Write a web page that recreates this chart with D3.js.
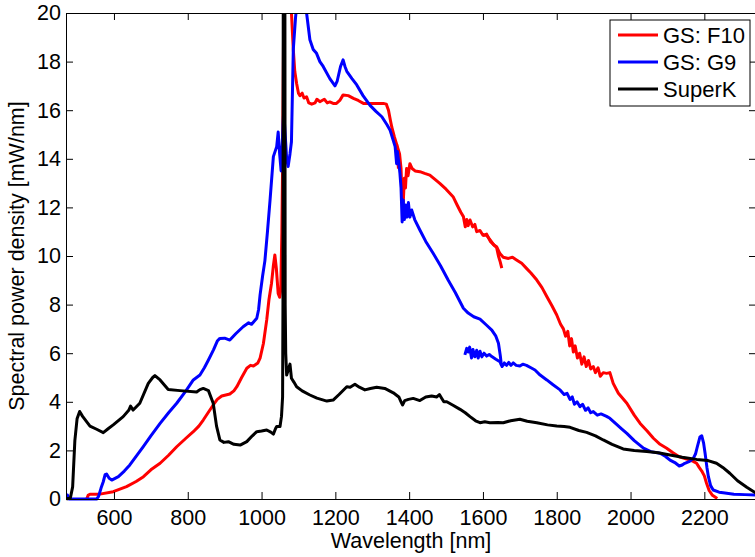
<!DOCTYPE html>
<html>
<head>
<meta charset="utf-8">
<script src="https://cdn.jsdelivr.net/npm/d3@7"></script>
<style>
  body { margin: 0; background: #fff; }
  text { font-family: "Liberation Sans", Arial, sans-serif; }
</style>
</head>
<body>
<div id="chart"></div>
<script>

// Spectra: [wavelength nm, mW/nm]

var superK = [[471,0],[482,0.05],[488,0.5],[494,2.4],[500,3.3],[507,3.6],[515,3.4],[535,3.0],[553,2.87],[571,2.73],
  [585,2.9],[598,3.05],[625,3.39],[640,3.65],[645,3.82],[652,3.66],[670,3.94],[693,4.76],[705,5.0],[711,5.08],
  [725,4.9],[747,4.51],[779,4.46],[824,4.4],[833,4.5],[842,4.55],[856,4.46],[869,3.94],[878,3.0],[887,2.43],
  [898,2.33],[910,2.36],[925,2.25],[942,2.22],[960,2.36],[975,2.6],[987,2.77],[1000,2.8],[1014,2.84],[1025,2.75],
  [1032,2.67],[1038,2.9],[1041,2.98],[1050,2.98],[1054,3.4],[1057,4.2],[1058,8],[1059,25],[1061,25],[1063,25],
  [1064,8],[1065.5,6],[1068,5.1],[1072,5.3],[1077,5.55],[1081,4.97],[1088,4.8],[1095,4.62],[1110,4.45],[1131,4.28],[1150,4.15],
  [1177,4.03],[1194,4.07],[1210,4.3],[1231,4.62],[1240,4.6],[1253,4.72],[1265,4.6],[1280,4.49],[1295,4.55],[1312,4.6],
  [1334,4.55],[1357,4.37],[1372,4.2],[1378,4.0],[1382,3.87],[1388,4.05],[1398,4.1],[1411,4.14],[1429,4.05],[1445,4.2],
  [1461,4.24],[1475,4.2],[1482,4.3],[1488,4.15],[1494,4.0],[1502,4.0],[1520,3.85],[1538,3.69],[1552,3.55],[1565,3.39],
  [1580,3.22],[1592,3.14],[1605,3.18],[1619,3.14],[1640,3.15],[1655,3.14],[1675,3.22],[1700,3.28],[1720,3.2],[1746,3.14],
  [1775,3.05],[1800,3.0],[1820,2.98],[1836,2.95],[1860,2.82],[1881,2.74],[1905,2.6],[1926,2.43],[1950,2.25],[1980,2.06],
  [2010,2.0],[2044,1.95],[2075,1.9],[2107,1.81],[2140,1.72],[2179,1.63],[2210,1.58],[2233,1.47],[2250,1.3],[2269,1.06],
  [2290,0.75],[2315,0.48],[2340,0.24]];

var g9Short = [[470,0.16],[474,0.16],[478,0],[553,0],[558,0.1],[565,0.45],[571,0.71],[576,1.0],[580,1.03],[587,0.85],
  [594,0.78],[612,0.92],[628,1.15],[643,1.4],[660,1.75],[679,2.15],[700,2.6],[725,3.11],[748,3.55],[770,3.94],
  [795,4.45],[815,4.9],[833,5.1],[845,5.4],[856,5.72],[870,6.15],[880,6.5],[887,6.61],[900,6.62],[914,6.54],
  [930,6.8],[950,7.09],[965,7.25],[973,7.19],[987,7.44],[992,7.8],[996,8.4],[1003,9.2],[1009,9.8],[1016,11.0],
  [1023,12.3],[1032,14.09],[1041,14.5],[1045,15.1],[1049,14.2],[1053,13.5],[1060,16],[1068,14.0],[1072,13.68],[1077,14.2],
  [1081,14.7],[1086,18.5],[1092,19.8],[1100,21],[1112,21],[1122,20],[1131,18.9],[1140,18.5],[1149,18.34],[1158,18.0],
  [1167,17.8],[1185,17.3],[1199,17.0],[1205,17.2],[1214,17.8],[1221,18.07],[1226,17.8],[1231,17.6],[1245,17.3],[1258,17.04],
  [1275,16.6],[1294,16.2],[1310,15.95],[1326,15.73],[1340,15.4],[1348,15.19],[1356,14.8],[1362,14.5],[1366,13.8],[1368,14.3],
  [1371,13.95],[1375,13.4],[1378,12.8],[1381,11.4],[1384,12.3],[1387,11.5],[1391,12.1],[1394,11.6],[1398,12.2],[1402,11.6],
  [1407,11.89],[1415,11.5],[1429,11.07],[1445,10.6],[1465,10.11],[1485,9.6],[1506,9.0],[1525,8.5],[1547,7.85],[1560,7.65],
  [1575,7.5],[1592,7.4],[1610,7.15],[1624,6.95],[1635,6.7],[1642,6.41],[1647,5.9],[1650,5.5]];

var g9Long = [[1551,5.93],[1556,6.2],[1560,6.05],[1564,6.25],[1569,5.8],[1573,6.15],[1578,5.85],[1583,6.12],[1587,5.8],[1592,6.08],
  [1597,5.85],[1603,6.0],[1610,5.88],[1617,5.95],[1624,5.86],[1635,5.75],[1646,5.65],[1652,5.45],[1658,5.6],[1664,5.5],
  [1670,5.62],[1676,5.5],[1682,5.6],[1690,5.5],[1700,5.47],[1708,5.55],[1718,5.5],[1730,5.4],[1741,5.31],[1755,5.1],
  [1773,4.9],[1790,4.7],[1809,4.49],[1820,4.3],[1828,4.35],[1836,4.1],[1842,4.2],[1848,3.9],[1855,4.0],[1863,3.8],
  [1870,3.9],[1878,3.65],[1885,3.75],[1892,3.55],[1899,3.6],[1910,3.45],[1920,3.5],[1935,3.4],[1944,3.32],[1960,3.1],
  [1975,2.9],[1990,2.7],[2010,2.4],[2035,2.09],[2055,1.95],[2080,1.88],[2095,1.75],[2107,1.6],[2120,1.5],[2132,1.36],
  [2140,1.4],[2147,1.47],[2160,1.55],[2170,1.67],[2176,1.85],[2181,2.15],[2188,2.55],[2193,2.6],[2198,2.3],[2202,1.88],
  [2207,1.3],[2211,0.92],[2217,0.55],[2224,0.37],[2240,0.28],[2251,0.26],[2280,0.2],[2310,0.18],[2340,0.16]];

var f10Short = [[526,0],[530,0.15],[535,0.2],[562,0.2],[598,0.3],[634,0.51],[660,0.72],[680,0.92],[700,1.2],[725,1.47],
  [748,1.8],[770,2.15],[795,2.5],[815,2.77],[830,3.0],[842,3.25],[855,3.55],[869,3.87],[880,4.1],[892,4.24],
  [914,4.32],[925,4.45],[933,4.62],[946,5.0],[960,5.38],[970,5.5],[978,5.47],[990,5.6],[996,5.8],[1005,6.4],
  [1014,7.37],[1020,8.2],[1027,8.88],[1032,9.6],[1036,10.04],[1040,9.5],[1045,8.46],[1049,8.3],[1052,8.6],[1055,11],
  [1057,13.68],[1060,20],[1063,24],[1075,24],[1081,20],[1086,18.5],[1090,17.6],[1095,17.1],[1100,16.7],[1104,16.6],
  [1110,16.7],[1115,16.5],[1122,16.55],[1128,16.3],[1136,16.25],[1145,16.3],[1150,16.45],[1158,16.35],[1170,16.45],[1178,16.3],
  [1185,16.34],[1194,16.28],[1203,16.28],[1212,16.4],[1221,16.63],[1235,16.6],[1249,16.49],[1262,16.4],[1276,16.28],[1300,16.28],
  [1330,16.28],[1338,16.25],[1344,16.0],[1349,15.6],[1353,15.3],[1360,14.9],[1366,14.6],[1369,14.0],[1371,13.6]];

var f10Mid = [[1366,14.6],[1374,14.2],[1378,13.6],[1381,12.3],[1384,12.2],[1387,13.2],[1390,12.8],[1393,13.6],[1397,13.3],[1402,13.8],
  [1408,13.6],[1416,13.5],[1429,13.47],[1442,13.4],[1456,13.33],[1470,13.15],[1483,12.99],[1500,12.75],[1519,12.44],[1530,12.1],
  [1540,11.8],[1547,11.62],[1552,11.2],[1556,11.5],[1560,11.25],[1565,11.48],[1572,11.2],[1578,11.3],[1583,11.0],[1592,11.05],
  [1600,10.85],[1610,10.9],[1620,10.6],[1630,10.45],[1637,10.35],[1642,10.0],[1647,9.75],[1651,9.5]];

var f10Long = [[1600,10.85],[1610,10.85],[1620,10.65],[1630,10.45],[1637,10.38],[1646,10.1],[1655,9.95],[1669,9.9],[1680,9.95],[1691,9.84],
  [1705,9.7],[1718,9.49],[1730,9.3],[1746,9.01],[1760,8.7],[1773,8.33],[1787,7.95],[1800,7.57],[1810,7.2],[1818,7.0],
  [1824,6.7],[1830,6.9],[1835,6.3],[1840,6.6],[1845,6.05],[1850,6.3],[1856,5.8],[1862,6.0],[1868,5.55],[1874,5.85],
  [1880,5.45],[1886,5.7],[1892,5.35],[1899,5.45],[1905,5.2],[1912,5.4],[1918,5.05],[1926,5.2],[1935,5.17],[1944,5.2],
  [1953,4.76],[1967,4.35],[1990,3.94],[2010,3.45],[2026,3.11],[2045,2.8],[2062,2.5],[2080,2.25],[2098,2.09],[2115,1.9],
  [2132,1.74],[2150,1.65],[2161,1.6],[2170,1.55],[2179,1.47],[2186,1.3],[2193,1.15],[2200,0.95],[2206,0.65],[2213,0.35],
  [2222,0.15],[2235,0.02]];

var xTicks = [600, 800, 1000, 1200, 1400, 1600, 1800, 2000, 2200];
var yTicks = [0, 2, 4, 6, 8, 10, 12, 14, 16, 18, 20];

var legendNames = ['GS: F10', 'GS: G9', 'SuperK'];
var legendColors = ['#ff0000', '#0000ff', '#000000'];

var series = [
  { data: f10Short, color: '#ff0000' },
  { data: f10Mid, color: '#ff0000' },
  { data: f10Long, color: '#ff0000' },
  { data: g9Short, color: '#0000ff' },
  { data: g9Long, color: '#0000ff' },
  { data: superK, color: '#000000' }
];

var width = 755,
  height = 557;

var margin = { top: 13, right: -1, bottom: 58, left: 66 };

var svg = d3.select('#chart')
  .append('svg')
  .attr('width', width)
  .attr('height', height);

var w = width - margin.left - margin.right,
  h = height - margin.top - margin.bottom;

var g = svg.append('g')
  .attr('transform', 'translate(' + margin.left + ',' + margin.top + ')');

// Scales

var xScale = d3.scaleLinear()
  .domain([470, 2340])
  .range([0, w]);

var yScale = d3.scaleLinear()
  .domain([0, 20])
  .range([h, 0]);

// Clip lines at the top of the box (a bit of slack at the bottom)

g.append('clipPath')
  .attr('id', 'clip')
  .append('rect')
  .attr('x', 0)
  .attr('y', 0)
  .attr('width', w)
  .attr('height', h + 3);

var line = d3.line()
  .x(function(d) { return xScale(d[0]); })
  .y(function(d) { return yScale(d[1]); });

g.append('g')
  .attr('clip-path', 'url(#clip)')
  .selectAll('path')
  .data(series)
  .enter()
  .append('path')
  .attr('d', function(d) { return line(d.data); })
  .attr('fill', 'none')
  .attr('stroke', function(d) { return d.color; })
  .attr('stroke-width', 3)
  .attr('stroke-linejoin', 'round');

// Axes, ticks pointing inward on all four sides

var fontSize = '21.5px';

var xAxis = g.append('g')
  .attr('transform', 'translate(0,' + h + ')')
  .call(d3.axisBottom(xScale).tickValues(xTicks).tickFormat(d3.format('d'))
    .tickSizeInner(-7).tickSizeOuter(0).tickPadding(11));

var xTop = g.append('g')
  .call(d3.axisTop(xScale).tickValues(xTicks).tickSizeInner(-7).tickSizeOuter(0).tickFormat(''));

var yAxis = g.append('g')
  .call(d3.axisLeft(yScale).tickValues(yTicks).tickSizeInner(-7).tickSizeOuter(0).tickPadding(5));

var yRight = g.append('g')
  .attr('transform', 'translate(' + w + ',0)')
  .call(d3.axisRight(yScale).tickValues(yTicks).tickSizeInner(-7).tickSizeOuter(0).tickFormat(''));

[xAxis, xTop, yAxis, yRight].forEach(function(a) {
  a.select('.domain').attr('stroke', '#000').attr('stroke-width', 1);
  a.selectAll('.tick line').attr('stroke', '#000').attr('stroke-width', 1);
  a.selectAll('.tick text')
    .attr('fill', '#000')
    .style('font-size', fontSize)
    .style('font-family', '"Liberation Sans", Arial, sans-serif');
});

// Axis titles

svg.append('text')
  .attr('x', margin.left + w / 2)
  .attr('y', 548)
  .attr('text-anchor', 'middle')
  .style('font-size', fontSize)
  .text('Wavelength [nm]');

svg.append('text')
  .attr('transform', 'translate(24,' + (margin.top + h / 2) + ') rotate(-90)')
  .attr('text-anchor', 'middle')
  .style('font-size', fontSize)
  .text('Spectral power density [mW/nm]');

// Legend

var legend = svg.append('g')
  .attr('transform', 'translate(610,20)');

legend.append('rect')
  .attr('width', 140)
  .attr('height', 86)
  .attr('fill', '#fff')
  .attr('stroke', '#000')
  .attr('stroke-width', 1);

var items = legend.selectAll('g.item')
  .data(legendNames)
  .enter()
  .append('g')
  .attr('class', 'item')
  .attr('transform', function(d, i) { return 'translate(0,' + (15 + i * 27) + ')'; });

items.append('line')
  .attr('x1', 8)
  .attr('x2', 48)
  .attr('stroke', function(d, i) { return legendColors[i]; })
  .attr('stroke-width', 3);

items.append('text')
  .attr('x', 53)
  .attr('y', 8)
  .style('font-size', '22px')
  .text(function(d) { return d; });

</script>
</body>
</html>
